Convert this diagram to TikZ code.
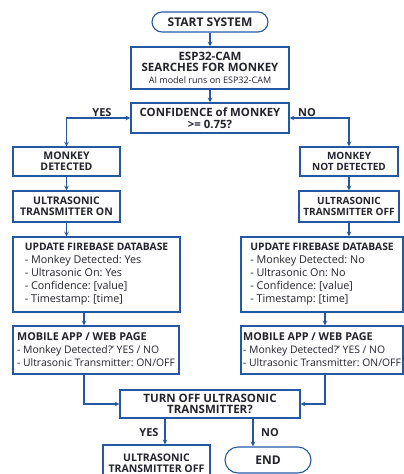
\documentclass[tikz,border=0pt]{standalone}
\usepackage{fontspec}
\setmainfont{Open Sans}
\usepackage{tikz}
\usetikzlibrary{arrows,shapes,positioning}
\usepackage{xcolor}
\definecolor{fcblue}{RGB}{36,88,165}
\definecolor{fctext}{RGB}{35,35,45}
\tikzstyle{arrow} = [line width=1.1pt,->,>=stealth,color=fcblue]
\tikzstyle{box} = [draw=fcblue, line width=1.1pt, fill=white, text=fctext, align=center, inner sep=0pt, font=\bfseries\fontsize{10.5}{11.2}\selectfont]
\tikzstyle{term} = [box, rounded corners=10pt]
\tikzstyle{info} = [box, align=left, font=\fontsize{10.8}{13}\selectfont]
\tikzstyle{lab} = [text=fctext, font=\bfseries\fontsize{11}{12}\selectfont]
\frenchspacing

\begin{document}
\begin{tikzpicture}[x=1pt,y=-1pt]
\useasboundingbox (0,0) rectangle (404,474);
% Main column
\node[term, minimum width=116pt, minimum height=20pt, font=\bfseries\fontsize{12}{12}\selectfont] (start) at (210,22) {START SYSTEM};
\node[box, minimum width=158pt, minimum height=42pt, font=\bfseries\fontsize{11.5}{10.5}\selectfont] (esp) at (210,68) {ESP32-CAM\\SEARCHES FOR MONKEY\\[2pt]
{\mdseries\fontsize{9}{9}\selectfont AI model runs on ESP32-CAM}};
\node[box, minimum width=158pt, minimum height=30pt, font=\bfseries\fontsize{11.4}{11.5}\selectfont] (conf) at (210,118) {CONFIDENCE of MONKEY\\>= 0.75?};

% Left branch
\node[box, minimum width=107pt, minimum height=29pt] (det) at (66.5,161.5) {MONKEY\\DETECTED};
\node[box, minimum width=107pt, minimum height=31pt] (uon) at (66.5,206.5) {ULTRASONIC\\TRANSMITTER ON};
\node[info, minimum width=167pt, minimum height=75pt] (upd1) at (96.5,274.5) {\textbf{\fontsize{10.3}{14}\selectfont UPDATE FIREBASE DATABASE}\\
- Monkey Detected: Yes\\- Ultrasonic On: Yes\\- Confidence: [value]\\- Timestamp: [time]};
\node[info, minimum width=166pt, minimum height=48pt, font=\fontsize{10.4}{13}\selectfont] (mob1) at (96,350) {\textbf{\fontsize{10.8}{14}\selectfont MOBILE APP / WEB PAGE}\\
- Monkey Detected?' YES / NO\\- Ultrasonic Transmitter: ON/OFF};

% Right branch
\node[box, minimum width=98pt, minimum height=29pt, font=\bfseries\fontsize{10}{11.2}\selectfont] (ndet) at (349,161.5) {MONKEY\\NOT DETECTED};
\node[box, minimum width=100pt, minimum height=31pt, font=\bfseries\fontsize{10}{11.2}\selectfont] (uoff) at (349,206.5) {ULTRASONIC\\TRANSMITTER OFF};
\node[info, minimum width=162pt, minimum height=75pt] (upd2) at (322,274.5) {\textbf{\fontsize{10.3}{14}\selectfont UPDATE FIREBASE DATABASE}\\
- Monkey Detected: No\\- Ultrasonic On: No\\- Confidence: [value]\\- Timestamp: [time]};
\node[info, minimum width=162pt, minimum height=48pt, font=\fontsize{10.4}{13}\selectfont] (mob2) at (322,350) {\textbf{\fontsize{10.8}{14}\selectfont MOBILE APP / WEB PAGE}\\
- Monkey Detected?' YES / NO\\- Ultrasonic Transmitter: ON/OFF};

% Decision at the bottom
\node[box, minimum width=180pt, minimum height=28pt, font=\bfseries\fontsize{11.5}{11.5}\selectfont] (turn) at (210,404) {TURN OFF ULTRASONIC\\TRANSMITTER?};
\node[box, minimum width=107pt, minimum height=36pt] (off) at (156.5,463) {ULTRASONIC\\TRANSMITTER OFF};
\node[term, minimum width=86pt, minimum height=26pt, rounded corners=13pt, font=\bfseries\fontsize{12}{12}\selectfont] (fin) at (268,460) {END};

% Labels
\node[lab] (yes1) at (102,113) {YES};
\node[lab] (no1) at (307,113) {NO};
\node[lab] (yes2) at (149,433) {YES};
\node[lab] (no2) at (270,433) {NO};

% Connectors
\draw[arrow] (start) -- (esp);
\draw[arrow] (esp) -- (conf);
\draw[arrow,<->] (conf.west) -| (det.north);
\draw[arrow,<->] (conf.east) -| (ndet.north);
\draw[arrow] (det) -- (uon);
\draw[arrow] (ndet) -- (uoff);
\draw[arrow] (uon.south) -- (uon.south |- upd1.north);
\draw[arrow] (uoff.south) -- (uoff.south |- upd2.north);
\draw[arrow] ([xshift=-12.5pt]upd1.south) -- ([xshift=-12.5pt]upd1.south |- mob1.north);
\draw[arrow] ([xshift=3pt]upd2.south) -- ([xshift=3pt]upd2.south |- mob2.north);
\draw[arrow] ([xshift=-12pt]mob1.south) |- (turn.west);
\draw[arrow] ([xshift=3pt]mob2.south) |- (turn.east);
\draw[arrow] ([xshift=-45pt]turn.south) -- ([xshift=-45pt]turn.south |- off.north);
\draw[arrow] ([xshift=43pt]turn.south) -- ([xshift=43pt]turn.south |- fin.north);
\end{tikzpicture}
\end{document}
